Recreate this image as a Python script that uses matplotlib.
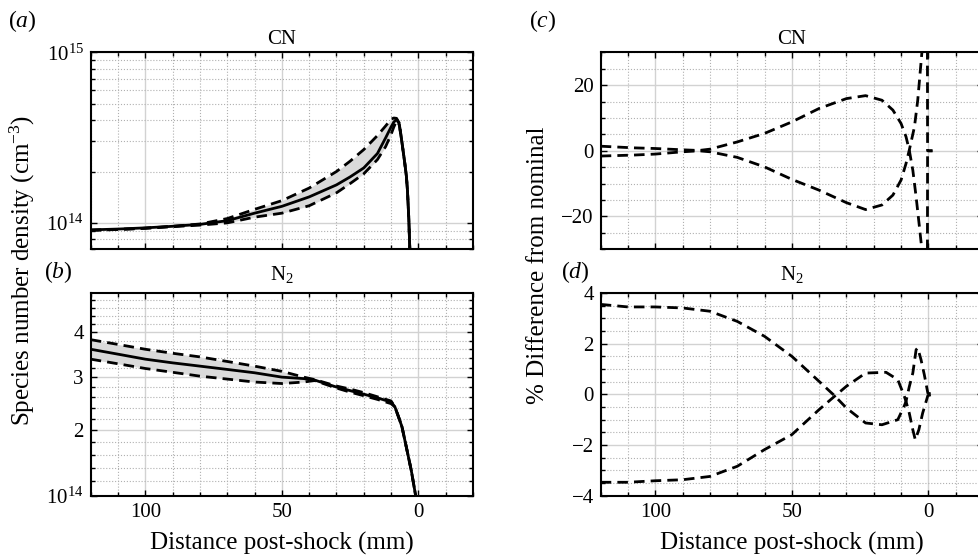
import numpy as np
import matplotlib
matplotlib.use('Agg')
import matplotlib.pyplot as plt
from matplotlib.ticker import FixedLocator, FixedFormatter, NullFormatter, MultipleLocator

plt.rcParams['font.family'] = ['Liberation Serif', 'DejaVu Serif']
plt.rcParams['mathtext.fontset'] = 'custom'
plt.rcParams['mathtext.rm'] = 'Liberation Serif'
plt.rcParams['mathtext.it'] = 'Liberation Serif:italic'
plt.rcParams['mathtext.bf'] = 'Liberation Serif:bold'

# (a) CN number density, units of 1e14 cm^-3
cn_x = [120, 110, 100, 90, 80, 70, 60, 50, 40, 30, 25, 20, 15, 12, 10, 9, 8, 7, 6, 5, 4.4, 4, 3.5, 3, 2.5]
cn_nom = [0.91, 0.92, 0.935, 0.955, 0.98, 1.03, 1.14, 1.25, 1.42, 1.67, 1.86, 2.10, 2.55, 3.15, 3.65, 3.9, 4.05,
          3.8, 2.95, 2.25, 1.88, 1.55, 1.05, 0.6, 0.4]
cn_hi = [0.905, 0.915, 0.93, 0.955, 0.985, 1.06, 1.2, 1.35, 1.6, 2.0, 2.3, 2.69, 3.25, 3.7, 4.05, 4.12, 4.1,
         3.85, 2.95, 2.25, 1.88, 1.55, 1.05, 0.6, 0.4]
cn_lo = [0.905, 0.915, 0.93, 0.95, 0.97, 1.0, 1.08, 1.14, 1.26, 1.5, 1.7, 1.94, 2.35, 2.8, 3.3, 3.65, 3.95,
         3.75, 2.95, 2.25, 1.88, 1.55, 1.05, 0.6, 0.4]

# (b) N2 number density, axis units as labelled (bottom = 1e14)
n2_x = [120, 110, 100, 90, 80, 70, 60, 50, 42, 38, 30, 25, 20, 15, 10, 8.6, 7, 6, 4.4, 2.6, 1, 0]
n2_nom = [3.60, 3.49, 3.38, 3.30, 3.23, 3.16, 3.09, 3.0, 2.97, 2.94, 2.80, 2.73, 2.66, 2.59, 2.51, 2.42,
          2.2, 2.06, 1.72, 1.36, 1.0, 0.85]
n2_hi = [3.82, 3.71, 3.60, 3.51, 3.43, 3.33, 3.23, 3.12, 3.0, 2.95, 2.82, 2.76, 2.69, 2.61, 2.53, 2.42,
         2.2, 2.06, 1.72, 1.36, 1.0, 0.85]
n2_lo = [3.38, 3.28, 3.18, 3.10, 3.02, 2.96, 2.90, 2.87, 2.90, 2.93, 2.78, 2.70, 2.63, 2.56, 2.48, 2.42,
         2.2, 2.06, 1.72, 1.36, 1.0, 0.85]

# (c) CN % difference
cn_up_x = [120, 108, 100, 90, 84, 80, 70, 60, 50, 40, 30, 23, 17, 13, 10, 8.2, 7, 5.7, 4.5, 3.3, 2.4, 1.8, 0.4, 0.3, -1.5]
cn_up_y = [1.4, 0.9, 0.7, 0.3, 0.1, 0.5, 2.7, 5.3, 8.8, 12.9, 15.9, 16.8, 15.4, 12.4, 8.3, 4.3, 0.2, -5.9,
           -14, -23, -30, -60, -60, 0, 0]
cn_dn_x = [120, 108, 100, 90, 84, 80, 70, 60, 50, 40, 30, 23, 17, 13, 10, 8.2, 7, 5.1, 3.9, 2.3, 1.8, 0.4, 0.3, -1.5]
cn_dn_y = [-1.6, -1.3, -1.0, -0.3, 0.0, -0.3, -2.0, -4.9, -8.7, -12.0, -15.8, -17.9, -16.5, -13.5, -8.9,
           -3.9, 0.2, 7.3, 15.4, 30.7, 60, 60, 0, 0]

# (d) N2 % difference
n2_up_x = [120, 110, 100, 90, 80, 70, 60, 50, 40, 34.4, 30, 23, 17, 11.2, 8.8, 8.2, 7, 5.7, 4.5, 3.9, 2.7, 1.5, 0.2, -1.5]
n2_up_y = [3.55, 3.45, 3.45, 3.41, 3.28, 2.88, 2.29, 1.50, 0.51, -0.05, -0.54, -1.13, -1.2, -1.0, -0.45,
           -0.28, 0.3, 0.84, 1.76, 1.83, 1.37, 0.78, 0.05, 0.0]
n2_dn_x = [120, 110, 100, 90, 80, 70, 60, 50, 40, 34.4, 30, 23, 15.5, 11.2, 8.8, 8.2, 7, 5.7, 4.8, 3.5, 2.1, 0.2, -1.5]
n2_dn_y = [-3.47, -3.47, -3.41, -3.37, -3.24, -2.84, -2.18, -1.59, -0.6, -0.08, 0.32, 0.84, 0.87, 0.58,
           -0.08, -0.28, -0.74, -1.4, -1.79, -1.4, -0.74, -0.05, 0.0]

W, H = 979, 557
fig = plt.figure(figsize=(W / 100, H / 100), dpi=100)


def box(l, t, r, b):
    return [l / W, 1 - b / H, (r - l) / W, (b - t) / H]


DASH = (0, (3.8, 2.2))
LW = 2.0
FILL = '#dadada'


def style(ax):
    ax.set_xlim(120, -20)
    ax.xaxis.set_major_locator(FixedLocator([100, 50, 0]))
    ax.xaxis.set_minor_locator(MultipleLocator(10))
    ax.grid(which='major', color='#d2d2d2', lw=1.0, ls='-')
    ax.grid(which='minor', color='#b0b0b0', lw=0.8, ls=':')
    ax.set_axisbelow(True)
    ax.tick_params(which='both', direction='in', top=True, right=True, labelsize=15, width=1.0, pad=5)
    ax.tick_params(which='major', length=4)
    ax.tick_params(which='minor', length=3)
    for s in ax.spines.values():
        s.set_linewidth(1.5)


ax_a = fig.add_axes(box(90.7, 52.3, 473, 249.3))
ax_b = fig.add_axes(box(90.7, 293, 473, 495.7))
ax_c = fig.add_axes(box(600.7, 52.3, 983, 249.3))
ax_d = fig.add_axes(box(600.7, 293, 983, 495.7))

# (a)
e14 = 1e14
ax_a.fill_between(cn_x, np.array(cn_lo) * e14, np.array(cn_hi) * e14, color=FILL, lw=0, zorder=1)
ax_a.plot(cn_x, np.array(cn_hi) * e14, color='k', ls=DASH, lw=LW, zorder=2)
ax_a.plot(cn_x, np.array(cn_lo) * e14, color='k', ls=DASH, lw=LW, zorder=2)
ax_a.plot(cn_x, np.array(cn_nom) * e14, color='k', lw=LW, zorder=3)
ax_a.set_yscale('log')
ax_a.set_ylim(7e13, 1e15)
ax_a.yaxis.set_major_locator(FixedLocator([1e14, 1e15]))
ax_a.yaxis.set_major_formatter(FixedFormatter(['$10^{14}$', '$10^{15}$']))
ax_a.yaxis.set_minor_locator(FixedLocator([7e13, 8e13, 9e13] + [k * 1e14 for k in range(2, 10)]))
ax_a.yaxis.set_minor_formatter(NullFormatter())
style(ax_a)
ax_a.tick_params(labelbottom=False)

# (b)
ax_b.fill_between(n2_x, n2_lo, n2_hi, color=FILL, lw=0, zorder=1)
ax_b.plot(n2_x, n2_hi, color='k', ls=DASH, lw=LW, zorder=2)
ax_b.plot(n2_x, n2_lo, color='k', ls=DASH, lw=LW, zorder=2)
ax_b.plot(n2_x, n2_nom, color='k', lw=LW, zorder=3)
ax_b.set_yscale('function', functions=(lambda y: np.log10(np.asarray(y) + 3),
                                       lambda v: 10 ** np.asarray(v) - 3))
ax_b.set_ylim(1, 5)
ax_b.yaxis.set_major_locator(FixedLocator([1, 2, 3, 4]))
ax_b.yaxis.set_major_formatter(FixedFormatter(['$10^{14}$', '2', '3', '4']))
ax_b.yaxis.set_minor_locator(FixedLocator([v for v in np.round(np.arange(1.2, 5.0, 0.2), 1) if v % 1 != 0]))
ax_b.yaxis.set_minor_formatter(NullFormatter())
style(ax_b)

# (c)
ax_c.plot(cn_up_x, cn_up_y, color='k', ls=DASH, lw=LW)
ax_c.plot(cn_dn_x, cn_dn_y, color='k', ls=DASH, lw=LW)
ax_c.set_ylim(-30, 30)
ax_c.yaxis.set_major_locator(FixedLocator([-20, 0, 20]))
ax_c.yaxis.set_minor_locator(MultipleLocator(5))
style(ax_c)
ax_c.tick_params(labelbottom=False)

# (d)
ax_d.plot(n2_up_x, n2_up_y, color='k', ls=DASH, lw=LW)
ax_d.plot(n2_dn_x, n2_dn_y, color='k', ls=DASH, lw=LW)
ax_d.set_ylim(-4, 4)
ax_d.yaxis.set_major_locator(FixedLocator([-4, -2, 0, 2, 4]))
ax_d.yaxis.set_minor_locator(MultipleLocator(0.5))
style(ax_d)


def ftext(x, y, s, **kw):
    fig.text(x / W, 1 - y / H, s, ha='center', va='center', **kw)


ftext(282, 39, 'CN', fontsize=15)
ftext(282, 275, 'N$_2$', fontsize=15)
ftext(792, 39, 'CN', fontsize=15)
ftext(792, 275, 'N$_2$', fontsize=15)

ftext(22, 21, '($a$)', fontsize=17)
ftext(58, 272, '($b$)', fontsize=17)
ftext(543, 21, '($c$)', fontsize=17)
ftext(575, 272, '($d$)', fontsize=17)

ftext(282, 543, 'Distance post-shock (mm)', fontsize=18)
ftext(792, 543, 'Distance post-shock (mm)', fontsize=18)
ftext(22, 270, 'Species number density (cm$^{-3}$)', fontsize=18, rotation=90)
ftext(538, 265, '% Difference from nominal', fontsize=18, rotation=90)

fig.savefig('out.png', dpi=100)
